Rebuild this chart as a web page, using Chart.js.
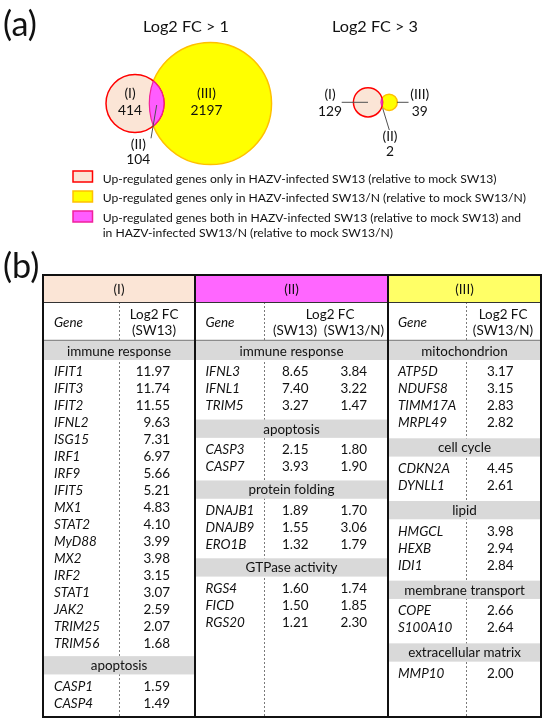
<!DOCTYPE html>
<html>
<head>
<meta charset="utf-8">
<script src="https://cdn.jsdelivr.net/npm/chart.js@4.4.1/dist/chart.umd.min.js"></script>
<style>
  html, body { margin: 0; padding: 0; background: #fff; }
  canvas { display: block; }
</style>
</head>
<body>
<canvas id="fig" width="550" height="725"></canvas>
<script>
// (a) venn counts: (I) only SW13, (II) both, (III) only SW13/N
const setLabels = ['(I)', '(II)', '(III)'];
const countsFC1 = [414, 104, 2197];
const countsFC3 = [129, 2, 39];
const vennTitles = ['Log2 FC > 1', 'Log2 FC > 3'];

const legendTexts = [
    'Up-regulated genes only in HAZV-infected SW13 (relative to mock SW13)',
    'Up-regulated genes only in HAZV-infected SW13/N (relative to mock SW13/N)',
    'Up-regulated genes both in HAZV-infected SW13 (relative to mock SW13) and',
    'in HAZV-infected SW13/N (relative to mock SW13/N)'
];

// (b) table, group (I)
const catsI = ['immune response', 'apoptosis'];
const genesI = [
    ['IFIT1', 'IFIT3', 'IFIT2', 'IFNL2', 'ISG15', 'IRF1', 'IRF9', 'IFIT5', 'MX1', 'STAT2',
     'MyD88', 'MX2', 'IRF2', 'STAT1', 'JAK2', 'TRIM25', 'TRIM56'],
    ['CASP1', 'CASP4']
];
const fcI_SW13 = [
    [11.97, 11.74, 11.55, 9.63, 7.31, 6.97, 5.66, 5.21, 4.83, 4.10, 3.99, 3.98, 3.15, 3.07, 2.59, 2.07, 1.68],
    [1.59, 1.49]
];

// group (II)
const catsII = ['immune response', 'apoptosis', 'protein folding', 'GTPase activity'];
const genesII = [
    ['IFNL3', 'IFNL1', 'TRIM5'],
    ['CASP3', 'CASP7'],
    ['DNAJB1', 'DNAJB9', 'ERO1B'],
    ['RGS4', 'FICD', 'RGS20']
];
const fcII_SW13 = [[8.65, 7.40, 3.27], [2.15, 3.93], [1.89, 1.55, 1.32], [1.60, 1.50, 1.21]];
const fcII_SW13N = [[3.84, 3.22, 1.47], [1.80, 1.90], [1.70, 3.06, 1.79], [1.74, 1.85, 2.30]];

// group (III)
const catsIII = ['mitochondrion', 'cell cycle', 'lipid', 'membrane transport', 'extracellular matrix'];
const genesIII = [
    ['ATP5D', 'NDUFS8', 'TIMM17A', 'MRPL49'],
    ['CDKN2A', 'DYNLL1'],
    ['HMGCL', 'HEXB', 'IDI1'],
    ['COPE', 'S100A10'],
    ['MMP10']
];
const fcIII_SW13N = [[3.17, 3.15, 2.83, 2.82], [4.45, 2.61], [3.98, 2.94, 2.84], [2.66, 2.64], [2.00]];

// ---- colours / layout ----
const peach = '#fbe5d6', red = '#ff0000';
const yellow = '#ffff00', orange = '#ffc000';
const magenta = '#ff5cff', magentaLine = '#f0209c';
const FAM = 'Lato, "Open Sans", sans-serif';

const bubbleK = 29 / Math.sqrt(518);   // px radius per sqrt(genes)
const radius = n => bubbleK * Math.sqrt(n);

const venns = [
    { counts: countsFC1, cx: 135, cy: 103.5, overlap: 14.7, titleX: 186 },
    { counts: countsFC3, cx: 368, cy: 102.3, overlap: 1.6, titleX: 375 }
];
venns.forEach(v => {
    v.rI = radius(v.counts[0] + v.counts[1]);
    v.rIII = radius(v.counts[2] + v.counts[1]);
    v.cxIII = v.cx + v.rI + v.rIII - v.overlap;
});

const cols = [
    { x0: 43, x1: 195, dash: 119, gene: 54, val: [170], lfc: 154, sub: [[154, '(SW13)']], pad: 4.5,
      fill: peach, cats: catsI, genes: genesI, vals: [fcI_SW13] },
    { x0: 195, x1: 388, dash: 264, gene: 205.5, val: [308.5, 367], lfc: 330, sub: [[295, '(SW13)'], [354, '(SW13/N)']], pad: 5.2,
      fill: '#ff66ff', cats: catsII, genes: genesII, vals: [fcII_SW13, fcII_SW13N] },
    { x0: 388, x1: 541, dash: 466, gene: 398, val: [513.5], lfc: 503, sub: [[503, '(SW13/N)']], pad: 7,
      fill: '#ffff66', cats: catsIII, genes: genesIII, vals: [fcIII_SW13N] }
];
const T = { top: 275, bottom: 717, head: 302, sub: 340.5, body: 341.7, band: 18.3, rowPad: 3.5, row: 16.95 };

let px = {};
function fitSize(ctx, s, target, italic) {
    ctx.font = (italic ? 'italic ' : '') + '20px ' + FAM;
    return 20 * target / ctx.measureText(s).width;
}
function txt(ctx, s, x, y, size, align, italic) {
    ctx.font = (italic ? 'italic ' : '') + size.toFixed(2) + 'px ' + FAM;
    ctx.textAlign = align || 'center';
    ctx.textBaseline = 'middle';
    ctx.fillStyle = '#111';
    ctx.fillText(s, x, y);
}
function line(ctx, x1, y1, x2, y2, color, w, dash) {
    ctx.save();
    ctx.strokeStyle = color;
    ctx.lineWidth = w;
    ctx.setLineDash(dash || []);
    ctx.beginPath();
    ctx.moveTo(x1, y1);
    ctx.lineTo(x2, y2);
    ctx.stroke();
    ctx.restore();
}

const figurePlugin = {
    id: 'figure',
    afterDatasetsDraw(chart) {
        const ctx = chart.ctx;
        px.legend = fitSize(ctx, legendTexts[0], 394);
        px.table = fitSize(ctx, 'immune response', 104);
        px.title = fitSize(ctx, vennTitles[0], 86);
        px.venn = fitSize(ctx, '2197', 32);
        px.panel = fitSize(ctx, '(a)', 34);

        // lens (II) of each venn, from the drawn bubbles
        venns.forEach((v, i) => {
            const a = chart.getDatasetMeta(i).data[0];
            const b = chart.getDatasetMeta(i + 2).data[0];
            const ra = a.options.radius, rb = b.options.radius;
            ctx.save();
            ctx.beginPath(); ctx.arc(a.x, a.y, ra, 0, Math.PI * 2); ctx.clip();
            ctx.beginPath(); ctx.arc(b.x, b.y, rb, 0, Math.PI * 2);
            ctx.fillStyle = magenta; ctx.fill();
            ctx.strokeStyle = magentaLine; ctx.lineWidth = 1.2; ctx.stroke();
            ctx.restore();
            ctx.save();
            ctx.beginPath(); ctx.arc(b.x, b.y, rb, 0, Math.PI * 2); ctx.clip();
            ctx.beginPath(); ctx.arc(a.x, a.y, ra, 0, Math.PI * 2);
            ctx.strokeStyle = magentaLine; ctx.lineWidth = 1.2; ctx.stroke();
            ctx.restore();
        });

        // (a) labels
        txt(ctx, '(a)', 3, 25, px.panel, 'left');
        venns.forEach((v, i) => txt(ctx, vennTitles[i], v.titleX, 27, px.title));
        const L = venns[0], R = venns[1];
        const gray = '#505050';
        txt(ctx, setLabels[0], L.cx - 5, 93.3, px.venn);
        txt(ctx, String(L.counts[0]), L.cx - 5, 110.7, px.venn);
        txt(ctx, setLabels[2], L.cxIII - 4, 93.3, px.venn);
        txt(ctx, String(L.counts[2]), L.cxIII - 4, 110.7, px.venn);
        line(ctx, L.cx + 21.7, L.cy + 1.5, L.cx + 16, L.cy + 34.8, gray, 1);
        txt(ctx, setLabels[1], L.cx + 3.3, 145, px.venn);
        txt(ctx, String(L.counts[1]), L.cx + 3.3, 160, px.venn);

        line(ctx, R.cx - 26.3, R.cy, R.cx, R.cy, gray, 1);
        txt(ctx, setLabels[0], 330, 95, px.venn);
        txt(ctx, String(R.counts[0]), 330, 111.7, px.venn);
        line(ctx, R.cxIII + 7.8, R.cy, R.cxIII + 19.4, R.cy, gray, 1);
        txt(ctx, setLabels[2], 419.7, 95, px.venn);
        txt(ctx, String(R.counts[2]), 419.7, 111.7, px.venn);
        line(ctx, R.cx + 14.7, R.cy + 6, R.cx + 21.3, R.cy + 27.7, gray, 1);
        txt(ctx, setLabels[1], 390, 136.7, px.venn);
        txt(ctx, String(R.counts[1]), 390, 151.7, px.venn);

        // legend
        const boxes = [[peach, red], [yellow, orange], [magenta, magentaLine]];
        const boxY = [171, 191, 211];
        boxes.forEach((c, i) => {
            ctx.fillStyle = c[0];
            ctx.fillRect(73, boxY[i], 19.5, 11);
            ctx.strokeStyle = c[1]; ctx.lineWidth = 1.5;
            ctx.strokeRect(73, boxY[i], 19.5, 11);
        });
        const legY = [179, 198.3, 217.7, 233.3];
        legendTexts.forEach((s, i) => txt(ctx, s, 102.7, legY[i], px.legend, 'left'));

        // (b) table
        txt(ctx, '(b)', 3, 267, px.panel, 'left');
        cols.forEach(c => {
            ctx.fillStyle = c.fill;
            ctx.fillRect(c.x0, T.top, c.x1 - c.x0, T.head - T.top);
            line(ctx, c.dash + 0.5, T.head, c.dash + 0.5, T.bottom, '#7a7a7a', 1, [2, 2]);
        });
        cols.forEach((c, ci) => {
            const mid = (c.x0 + c.x1) / 2;
            txt(ctx, setLabels[ci], mid, 289.5, px.table);
            txt(ctx, 'Gene', c.gene, 322.7, px.table, 'left', true);
            txt(ctx, 'Log2 FC', c.lfc, 315, px.table);
            c.sub.forEach(s => txt(ctx, s[1], s[0], 331, px.table));
            let y = T.body;
            c.cats.forEach((cat, k) => {
                ctx.fillStyle = '#d9d9d9';
                ctx.fillRect(c.x0 + 1, y, c.x1 - c.x0 - 2, T.band);
                txt(ctx, cat, mid, y + T.band / 2 + 0.5, px.table);
                y += T.band + T.rowPad;
                c.genes[k].forEach((g, j) => {
                    const yc = y + T.row / 2 + j * T.row;
                    txt(ctx, g, c.gene, yc, px.table, 'left', true);
                    c.vals.forEach((series, si) => txt(ctx, series[k][j].toFixed(2), c.val[si], yc, px.table, 'right'));
                });
                y += c.genes[k].length * T.row + c.pad;
            });
        });
        line(ctx, 43, T.sub, 541, T.sub, '#8c8c8c', 1.5);
        line(ctx, 43, T.head + 0.5, 541, T.head + 0.5, '#333', 1);
        ctx.strokeStyle = '#111'; ctx.lineWidth = 2;
        ctx.strokeRect(43, T.top, 541 - 43, T.bottom - T.top);
        line(ctx, 195, T.top, 195, T.bottom, '#111', 2);
        line(ctx, 388, T.top, 388, T.bottom, '#111', 2);
    }
};

const vennData = [];
venns.forEach(v => vennData.push({ x: v.cx, y: v.cy, r: v.rI }));
venns.forEach(v => vennData.push({ x: v.cxIII, y: v.cy, r: v.rIII }));

new Chart(document.getElementById('fig'), {
    type: 'bubble',
    data: {
        datasets: [
            { label: setLabels[0] + ' FC>1', data: [vennData[0]], backgroundColor: peach, borderColor: red, borderWidth: 1.5 },
            { label: setLabels[0] + ' FC>3', data: [vennData[1]], backgroundColor: peach, borderColor: red, borderWidth: 1.5 },
            { label: setLabels[2] + ' FC>1', data: [vennData[2]], backgroundColor: yellow, borderColor: orange, borderWidth: 1.5 },
            { label: setLabels[2] + ' FC>3', data: [vennData[3]], backgroundColor: yellow, borderColor: orange, borderWidth: 1.5 }
        ]
    },
    options: {
        responsive: false,
        animation: false,
        events: [],
        layout: { padding: 0, autoPadding: false },
        scales: {
            x: { type: 'linear', min: 0, max: 550, display: false },
            y: { type: 'linear', min: 0, max: 725, reverse: true, display: false }
        },
        plugins: { legend: { display: false }, tooltip: { enabled: false } }
    },
    plugins: [figurePlugin]
});
</script>
</body>
</html>
